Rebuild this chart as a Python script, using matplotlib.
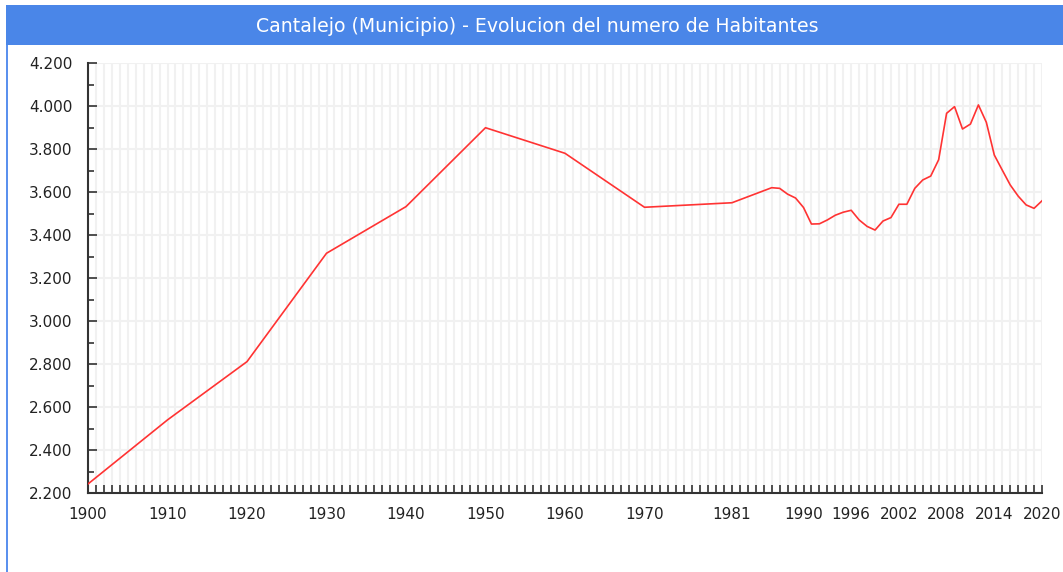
import matplotlib
matplotlib.use("Agg")
from matplotlib import pyplot as plt
from matplotlib.patches import Rectangle
from matplotlib.ticker import FixedLocator, MultipleLocator, FuncFormatter

# population
years = [1900, 1910, 1920, 1930, 1940, 1950, 1960, 1970, 1981,
         1986, 1987, 1988, 1989, 1990, 1991, 1992, 1993, 1994, 1995, 1996,
         1997, 1998, 1999, 2000, 2001, 2002, 2003, 2004, 2005, 2006, 2007,
         2008, 2009, 2010, 2011, 2012, 2013, 2014, 2015, 2016, 2017, 2018,
         2019, 2020]
habitantes = [2242, 2540, 2811, 3315, 3532, 3899, 3780, 3529, 3550,
              3620, 3617, 3590, 3572, 3528, 3451, 3452, 3470, 3492, 3506, 3515,
              3470, 3440, 3423, 3465, 3481, 3543, 3543, 3617, 3656, 3674, 3750,
              3966, 3997, 3893, 3916, 4005, 3924, 3772, 3702, 3633, 3581, 3540,
              3524, 3559]

label_years = [1900, 1910, 1920, 1930, 1940, 1950, 1960, 1970, 1981,
               1990, 1996, 2002, 2008, 2014, 2020]
titulo = "Cantalejo (Municipio) - Evolucion del numero de Habitantes"

W, H = 1063, 572
fig = plt.figure(figsize=(W / 100, H / 100), dpi=100)
fig.patch.set_facecolor("white")

# blue header bar and left border
fig.patches.append(Rectangle((6 / W, 1 - 45 / H), 1, 40 / H, transform=fig.transFigure,
                             facecolor="#4a86e8", edgecolor="none", zorder=0))
fig.patches.append(Rectangle((6 / W, 0), 2 / W, 1 - 45 / H, transform=fig.transFigure,
                             facecolor="#5b91ee", edgecolor="none", zorder=0))
fig.text(537 / W, 1 - 26 / H, titulo, color="white", fontsize=13.6,
         ha="center", va="center")

ax = fig.add_axes([88 / W, 1 - 493 / H, (1042 - 88) / W, (493 - 63) / H])
ax.plot(years, habitantes, color="#ff3333", linewidth=1.2, zorder=3)

ax.set_xlim(1900, 2020)
ax.set_ylim(2200, 4200)

ax.xaxis.set_major_locator(FixedLocator(label_years))
ax.xaxis.set_minor_locator(MultipleLocator(1))
ax.yaxis.set_major_locator(MultipleLocator(200))
ax.yaxis.set_minor_locator(MultipleLocator(100))
ax.yaxis.set_major_formatter(FuncFormatter(lambda v, p: "{:,.0f}".format(v).replace(",", ".")))

ax.grid(True, which="major", axis="y", color="#f1f1f1", linewidth=1.5)
ax.grid(True, which="both", axis="x", color="#f1f1f1", linewidth=1.5)
ax.set_axisbelow(True)

for s in ["top", "right"]:
    ax.spines[s].set_visible(False)
for s in ["left", "bottom"]:
    ax.spines[s].set_color("#333333")
    ax.spines[s].set_linewidth(1.5)

ax.tick_params(axis="y", which="major", direction="in", length=6.5, width=1.2,
               color="#333333", labelsize=11, labelcolor="#222222", pad=11)
ax.tick_params(axis="y", which="minor", direction="in", length=4.5, width=1.2, color="#333333")
ax.tick_params(axis="x", which="both", direction="in", length=5.5, width=1.2,
               color="#333333", labelsize=11, labelcolor="#222222", pad=10)

fig.savefig("out.png", dpi=100)
